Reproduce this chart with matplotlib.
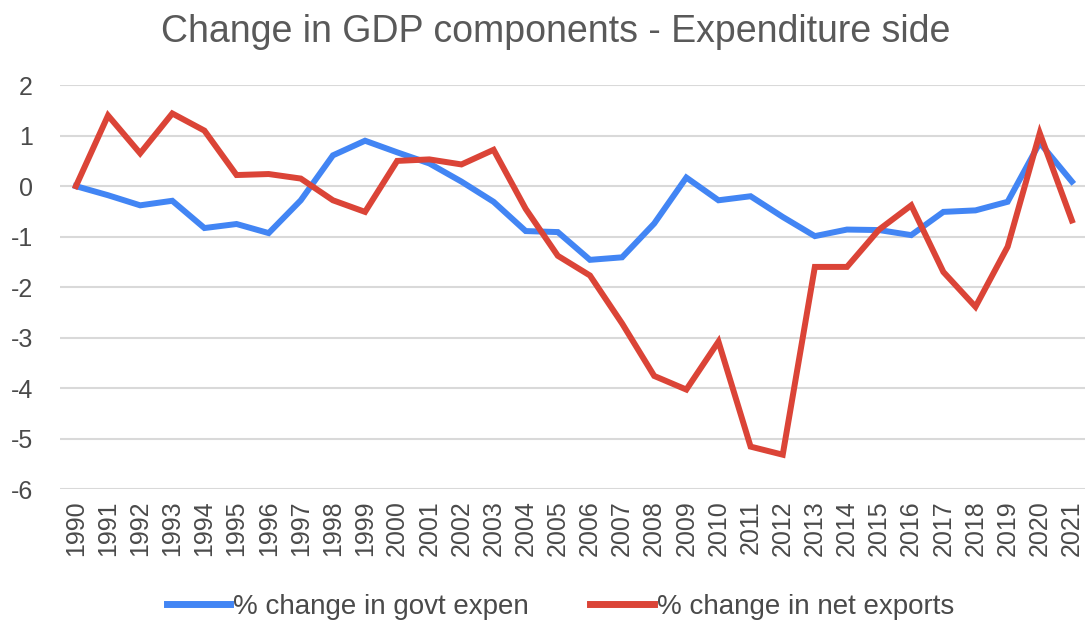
import matplotlib
matplotlib.use("Agg")
import matplotlib.pyplot as plt

years = list(range(1990, 2022))
govt_expen = [0.0, -0.18, -0.38, -0.29, -0.83, -0.75, -0.93, -0.28, 0.61, 0.90,
              0.67, 0.45, 0.09, -0.31, -0.89, -0.91, -1.46, -1.41, -0.74, 0.17,
              -0.28, -0.20, -0.61, -0.99, -0.86, -0.87, -0.97, -0.51, -0.48, -0.31,
              0.86, 0.09]
net_exports = [0.0, 1.40, 0.65, 1.44, 1.10, 0.22, 0.24, 0.15, -0.28, -0.51,
               0.50, 0.53, 0.43, 0.72, -0.45, -1.38, -1.77, -2.72, -3.76, -4.03,
               -3.08, -5.16, -5.32, -1.60, -1.60, -0.86, -0.38, -1.70, -2.39, -1.20,
               1.05, -0.68]
yticks = [2, 1, 0, -1, -2, -3, -4, -5, -6]

plt.rcParams['font.family'] = ['Liberation Sans', 'DejaVu Sans']

fig = plt.figure(figsize=(10.88, 6.31), dpi=100)
ax = fig.add_axes([0.055, 0.225, 0.942, 0.64])

ax.plot(years, govt_expen, color='#4285F4', lw=4.3, solid_joinstyle='miter',
        label='% change in govt expen', zorder=3)
ax.plot(years, net_exports, color='#DB4437', lw=4.3, solid_joinstyle='miter',
        label='% change in net exports', zorder=3)

ax.set_xlim(1989.5, 2021.4)
ax.set_ylim(-6, 2)
ax.set_yticks(yticks)
ax.set_yticklabels([str(v) for v in yticks])
ax.set_xticks(years)
ax.set_xticklabels([str(y) for y in years], rotation=90)
ax.tick_params(axis='both', length=0, labelsize=18, colors='#4a4a4a')
ax.tick_params(axis='y', pad=19.5)
ax.tick_params(axis='x', pad=8)
ax.grid(axis='y', color='#d9d9d9', lw=1.5)
ax.grid(axis='x', visible=False)
ax.set_axisbelow(True)
for s in ax.spines.values():
    s.set_visible(False)

fig.suptitle('Change in GDP components - Expenditure side', fontsize=27,
             color='#595959', x=0.511, y=0.978)

leg = fig.legend(loc='lower center', bbox_to_anchor=(0.515, -0.022), ncol=2,
                 frameon=False, fontsize=20, handlelength=2.3, columnspacing=2.2,
                 handletextpad=0.1, labelcolor='#4a4a4a')
for line in leg.get_lines():
    line.set_linewidth(5)

fig.savefig('out.png', dpi=100, facecolor='white')
